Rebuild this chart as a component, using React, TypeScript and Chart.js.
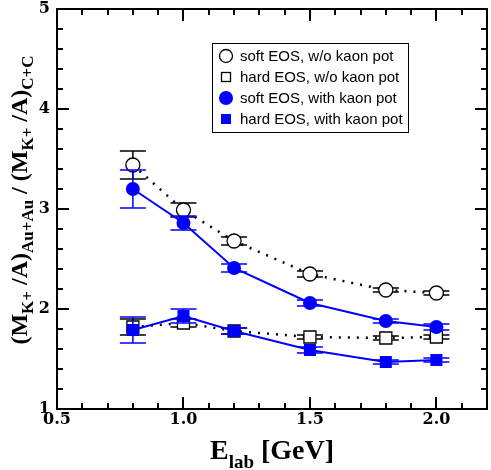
import React, { useEffect, useRef } from "react";
import { Chart, registerables } from "chart.js";

Chart.register(...registerables);

// ---- data ----
const energies = [0.8, 1.0, 1.2, 1.5, 1.8, 2.0];

const softWoKaon = [3.44, 2.99, 2.68, 2.35, 2.19, 2.16];
const softWoKaonErr = [0.14, 0.07, 0.04, 0.03, 0.02, 0.02];

const hardWoKaon = [1.82, 1.86, 1.78, 1.72, 1.71, 1.72];
const hardWoKaonErr = [0.08, 0.04, 0.03, 0.02, 0.02, 0.02];

const softWithKaon = [3.2, 2.86, 2.41, 2.06, 1.88, 1.82];
const softWithKaonErr = [0.19, 0.07, 0.04, 0.03, 0.02, 0.03];

const hardWithKaon = [1.79, 1.93, 1.78, 1.59, 1.47, 1.49];
const hardWithKaonErr = [0.13, 0.07, 0.03, 0.03, 0.02, 0.02];

const xTickValues = [0.5, 1.0, 1.5, 2.0];
const yTickValues = [1, 2, 3, 4, 5];

const legendLabels = [
  "soft EOS, w/o kaon pot",
  "hard EOS, w/o kaon pot",
  "soft EOS, with kaon pot",
  "hard EOS, with kaon pot",
];

const BLUE = "#0000ff";
const SERIF = "'Liberation Serif', 'Times New Roman', serif";
const TICKSERIF = "'DejaVu Serif', serif";
const SANS = "'Liberation Sans', Arial, sans-serif";

type Part = { t: string; sub?: boolean };

function drawRich(ctx: CanvasRenderingContext2D, parts: Part[], main: number, sub: number, shift: number) {
  const widths = parts.map((p) => {
    ctx.font = `bold ${p.sub ? sub : main}px ${SERIF}`;
    return ctx.measureText(p.t).width;
  });
  const total = widths.reduce((a, b) => a + b, 0);
  let x = -total / 2;
  parts.forEach((p, i) => {
    ctx.font = `bold ${p.sub ? sub : main}px ${SERIF}`;
    ctx.fillText(p.t, x, p.sub ? shift : 0);
    x += widths[i];
  });
}

const errorBarPlugin = {
  id: "errorBars",
  beforeDatasetDraw(chart: any, args: any) {
    const ds = chart.data.datasets[args.index];
    if (!ds.errors) return;
    const ctx = chart.ctx;
    const xs = chart.scales.x;
    const ys = chart.scales.y;
    ctx.save();
    ctx.strokeStyle = ds.errColor;
    ctx.lineWidth = 1.5;
    ds.data.forEach((pt: any, i: number) => {
      const px = xs.getPixelForValue(pt.x);
      const top = ys.getPixelForValue(pt.y + ds.errors[i]);
      const bot = ys.getPixelForValue(pt.y - ds.errors[i]);
      ctx.beginPath();
      ctx.moveTo(px, top);
      ctx.lineTo(px, bot);
      ctx.moveTo(px - 13, top);
      ctx.lineTo(px + 13, top);
      ctx.moveTo(px - 13, bot);
      ctx.lineTo(px + 13, bot);
      ctx.stroke();
    });
    ctx.restore();
  },
};

const framePlugin = {
  id: "frame",
  afterDraw(chart: any) {
    const ctx = chart.ctx;
    const a = chart.chartArea;
    const xs = chart.scales.x;
    const ys = chart.scales.y;
    ctx.save();
    ctx.strokeStyle = "#000";
    ctx.lineWidth = 2;
    ctx.strokeRect(a.left, a.top, a.right - a.left, a.bottom - a.top);
    ctx.lineWidth = 2;
    ctx.beginPath();
    for (let i = 6; i <= 21; i++) {
      const v = i / 10;
      const px = Math.round(xs.getPixelForValue(v));
      const len = i % 5 === 0 ? 12 : 6;
      ctx.moveTo(px, a.bottom);
      ctx.lineTo(px, a.bottom - len);
      ctx.moveTo(px, a.top);
      ctx.lineTo(px, a.top + len);
    }
    for (let i = 6; i < 25; i++) {
      const v = i / 5;
      const py = Math.round(ys.getPixelForValue(v));
      const len = i % 5 === 0 ? 12 : 6;
      ctx.moveTo(a.left, py);
      ctx.lineTo(a.left + len, py);
      ctx.moveTo(a.right, py);
      ctx.lineTo(a.right - len, py);
    }
    ctx.stroke();

    // tick labels
    ctx.fillStyle = "#000";
    ctx.font = `bold 16px ${TICKSERIF}`;
    ctx.textAlign = "center";
    ctx.textBaseline = "top";
    xTickValues.forEach((v) => {
      ctx.fillText(v.toFixed(1), xs.getPixelForValue(v), a.bottom + 3);
    });
    ctx.textAlign = "right";
    ctx.textBaseline = "middle";
    yTickValues.forEach((v) => {
      ctx.fillText(String(v), a.left - 7, ys.getPixelForValue(v));
    });

    // axis titles
    ctx.textBaseline = "alphabetic";
    ctx.textAlign = "left";
    ctx.save();
    ctx.translate((a.left + a.right) / 2, 459);
    drawRich(ctx, [{ t: "E" }, { t: "lab", sub: true }, { t: " [GeV]" }], 28, 19, 9);
    ctx.restore();

    ctx.save();
    ctx.translate(27, 200);
    ctx.rotate(-Math.PI / 2);
    drawRich(
      ctx,
      [
        { t: "(M" },
        { t: "K+", sub: true },
        { t: " /A)" },
        { t: "Au+Au", sub: true },
        { t: " / (M" },
        { t: "K+", sub: true },
        { t: " /A)" },
        { t: "C+C", sub: true },
      ],
      24,
      17,
      6
    );
    ctx.restore();

    // legend
    const bx = a.left + 155;
    const by = a.top + 34;
    const bw = 196;
    const bh = 89;
    ctx.lineWidth = 1;
    ctx.strokeStyle = "#000";
    ctx.strokeRect(bx + 0.5, by + 0.5, bw, bh);
    ctx.font = `15px ${SANS}`;
    ctx.textBaseline = "middle";
    legendLabels.forEach((lab, i) => {
      const yc = by + 13 + i * 21;
      const mx = bx + 14;
      ctx.lineWidth = 1.3;
      if (i === 0) {
        ctx.beginPath();
        ctx.arc(mx, yc, 6.5, 0, Math.PI * 2);
        ctx.fillStyle = "#fff";
        ctx.fill();
        ctx.strokeStyle = "#000";
        ctx.stroke();
      } else if (i === 1) {
        ctx.fillStyle = "#fff";
        ctx.fillRect(mx - 4.5, yc - 4.5, 9, 9);
        ctx.strokeStyle = "#000";
        ctx.strokeRect(mx - 4.5, yc - 4.5, 9, 9);
      } else if (i === 2) {
        ctx.beginPath();
        ctx.arc(mx, yc, 7, 0, Math.PI * 2);
        ctx.fillStyle = BLUE;
        ctx.fill();
      } else {
        ctx.fillStyle = BLUE;
        ctx.fillRect(mx - 5, yc - 5, 10, 10);
      }
      ctx.fillStyle = "#000";
      ctx.fillText(lab, bx + 28, yc + 1);
    });
    ctx.restore();
  },
};

function pts(vals: number[]) {
  return energies.map((e, i) => ({ x: e, y: vals[i] }));
}

export default function App() {
  const ref = useRef<HTMLCanvasElement>(null);

  useEffect(() => {
    document.body.style.margin = "0";
    const canvas = ref.current!;
    const chart = new Chart(canvas, {
      type: "line",
      data: {
        datasets: [
          {
            label: legendLabels[0],
            data: pts(softWoKaon),
            errors: softWoKaonErr,
            errColor: "#000",
            borderColor: "#000",
            borderWidth: 2.5,
            borderDash: [2, 7],
            pointStyle: "circle",
            pointRadius: 7,
            pointBackgroundColor: "#fff",
            pointBorderColor: "#000",
            pointBorderWidth: 1.3,
            tension: 0,
            order: 2,
          } as any,
          {
            label: legendLabels[1],
            data: pts(hardWoKaon),
            errors: hardWoKaonErr,
            errColor: "#000",
            borderColor: "#000",
            borderWidth: 2.5,
            borderDash: [2, 7],
            pointStyle: "rect",
            pointRadius: 8.5,
            pointBackgroundColor: "#fff",
            pointBorderColor: "#000",
            pointBorderWidth: 1.3,
            tension: 0,
            order: 3,
          } as any,
          {
            label: legendLabels[2],
            data: pts(softWithKaon),
            errors: softWithKaonErr,
            errColor: BLUE,
            borderColor: BLUE,
            borderWidth: 2,
            pointStyle: "circle",
            pointRadius: 7,
            pointBackgroundColor: BLUE,
            pointBorderColor: BLUE,
            pointBorderWidth: 0,
            tension: 0,
            order: 1,
          } as any,
          {
            label: legendLabels[3],
            data: pts(hardWithKaon),
            errors: hardWithKaonErr,
            errColor: BLUE,
            borderColor: BLUE,
            borderWidth: 2,
            pointStyle: "rect",
            pointRadius: 8.5,
            pointBackgroundColor: BLUE,
            pointBorderColor: BLUE,
            pointBorderWidth: 0,
            tension: 0,
            order: 0,
          } as any,
        ],
      },
      options: {
        animation: false,
        responsive: false,
        events: [],
        layout: { autoPadding: false, padding: { left: 0, right: 4, top: 9, bottom: 0 } },
        plugins: { legend: { display: false }, tooltip: { enabled: false } },
        scales: {
          x: {
            type: "linear",
            min: 0.5,
            max: 2.2,
            afterBuildTicks: (s: any) => {
              s.ticks = xTickValues.map((v) => ({ value: v }));
            },
            afterFit: (s: any) => {
              s.height = 61;
              s.paddingLeft = 0;
              s.paddingRight = 0;
            },
            grid: { display: false },
            border: { display: false },
            ticks: { display: false },
          },
          y: {
            type: "linear",
            min: 1,
            max: 5,
            afterBuildTicks: (s: any) => {
              s.ticks = yTickValues.map((v) => ({ value: v }));
            },
            afterFit: (s: any) => {
              s.width = 57;
              s.paddingTop = 0;
              s.paddingBottom = 0;
            },
            grid: { display: false },
            border: { display: false },
            ticks: { display: false },
          },
        },
      },
      plugins: [errorBarPlugin, framePlugin],
    } as any);
    return () => chart.destroy();
  }, []);

  return (
    <div style={{ width: 491, height: 470 }}>
      <canvas ref={ref} width={491} height={470} />
    </div>
  );
}
